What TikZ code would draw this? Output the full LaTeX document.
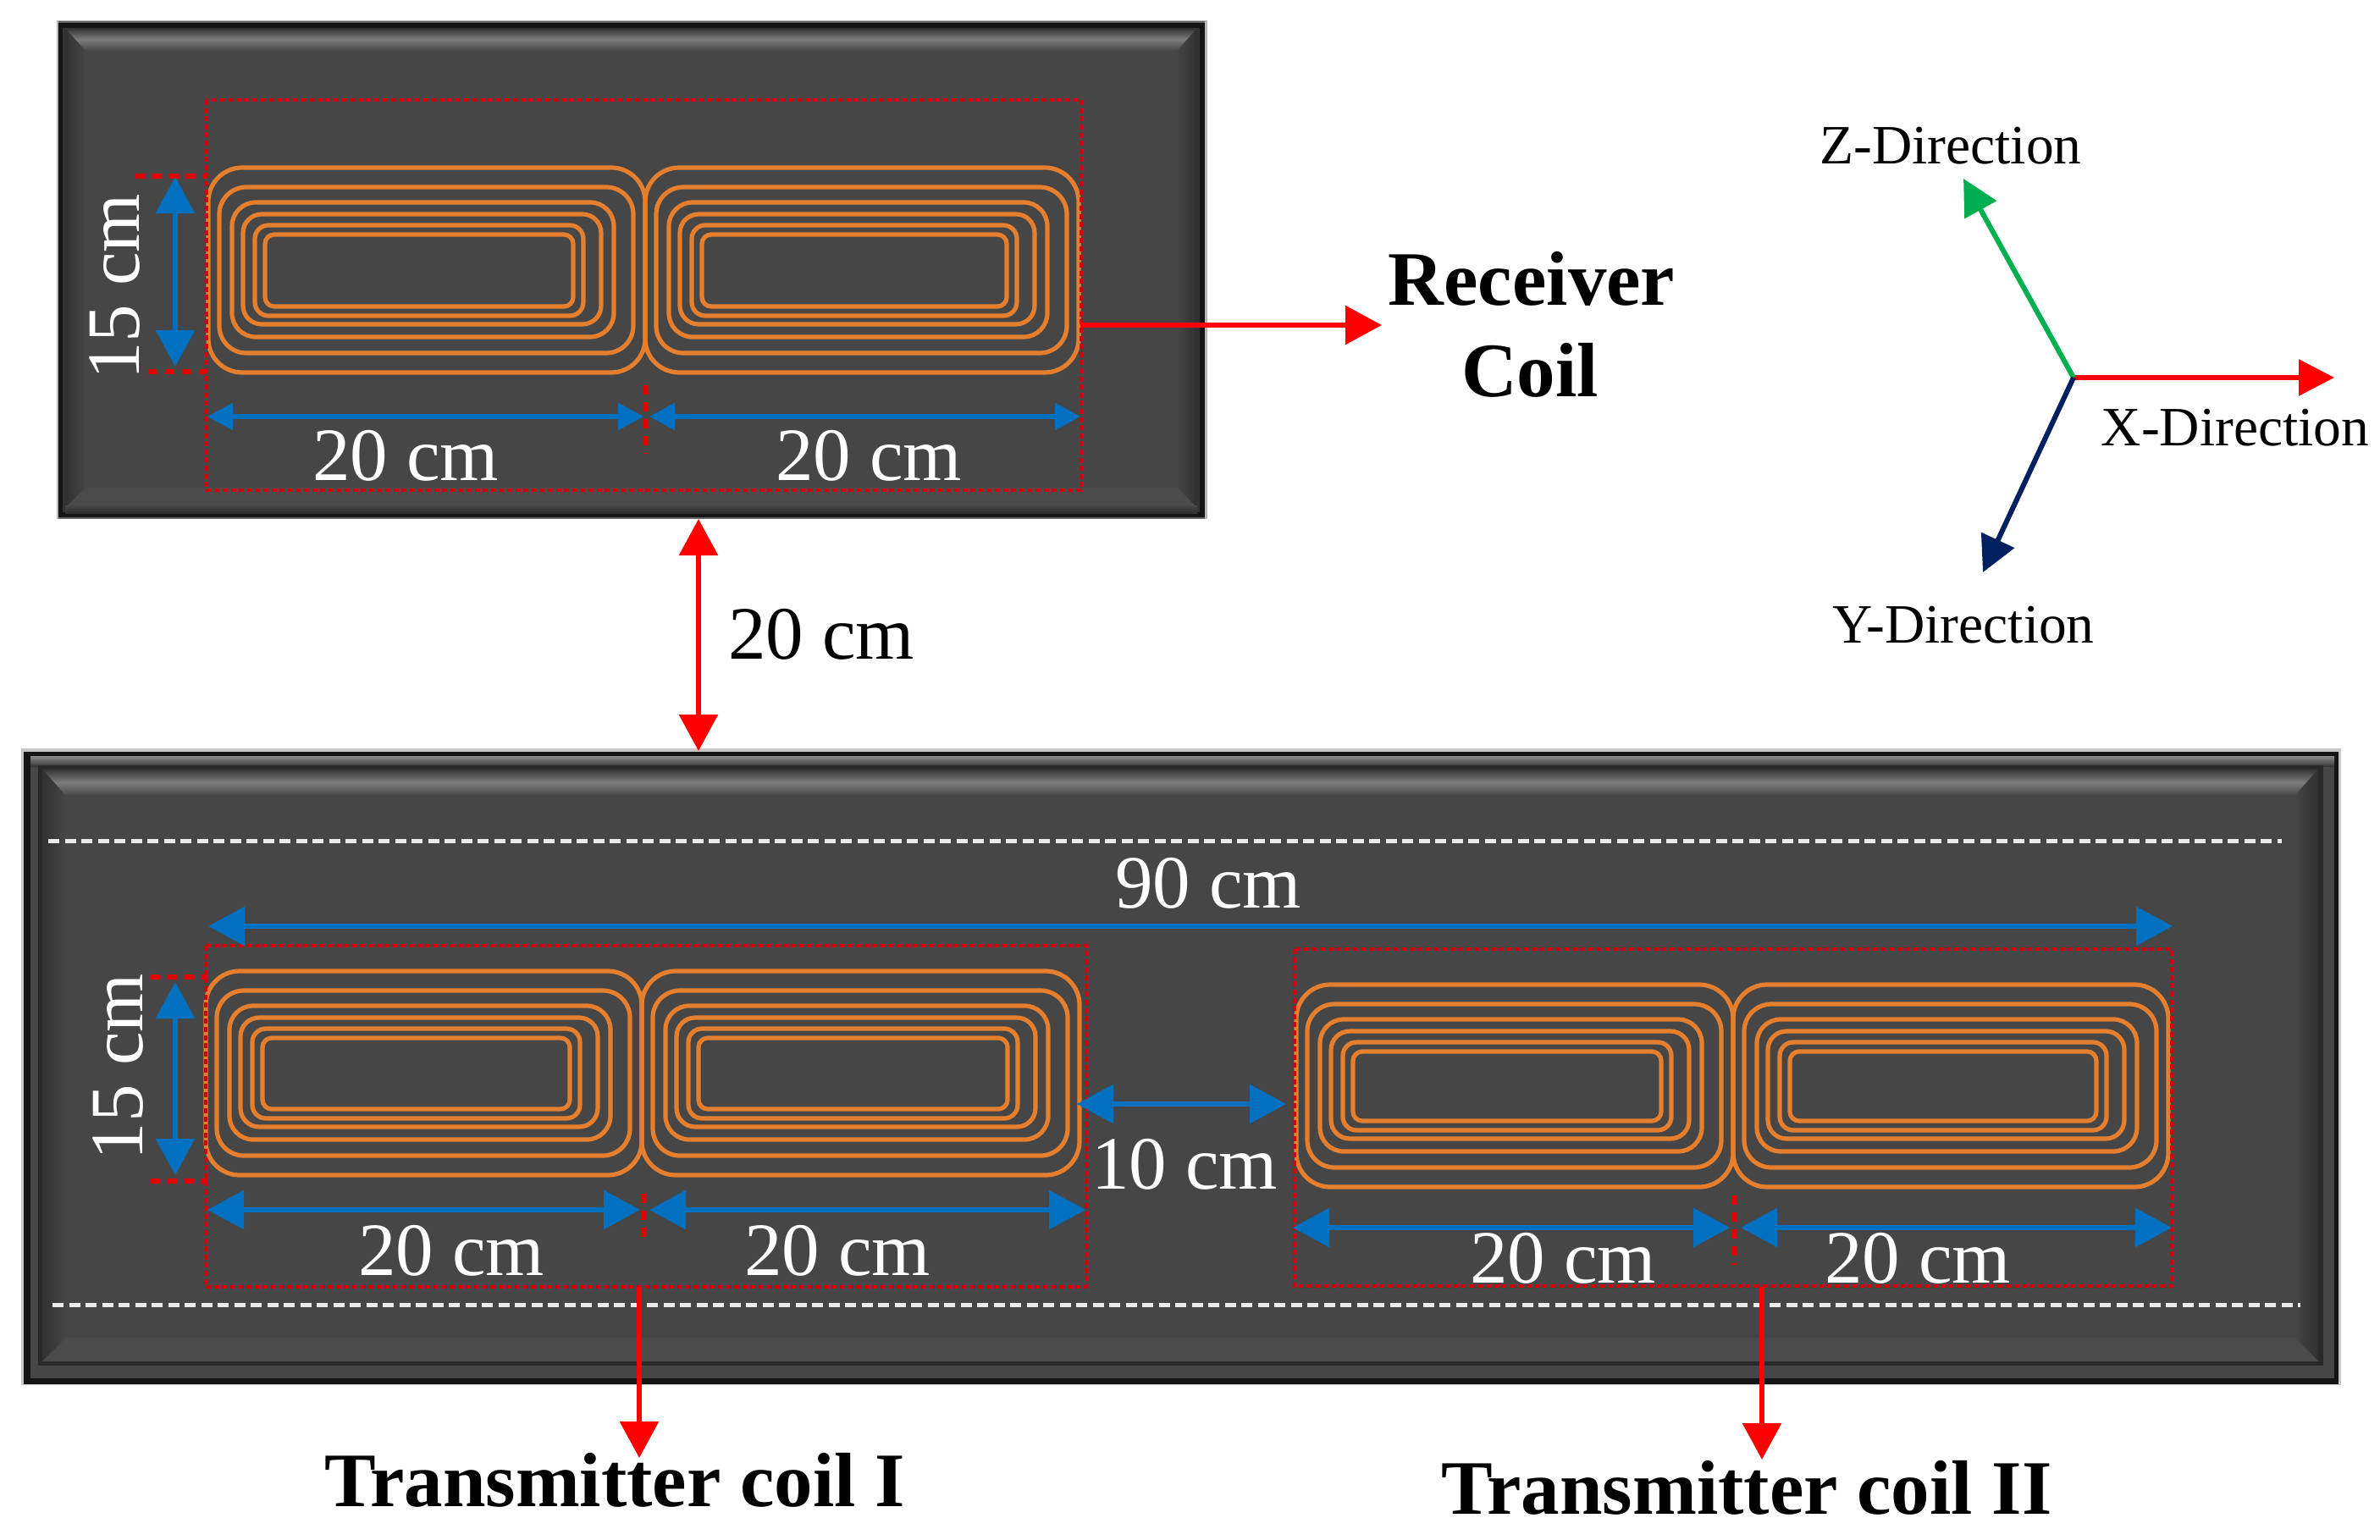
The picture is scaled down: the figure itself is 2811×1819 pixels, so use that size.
\documentclass[tikz,border=0pt]{standalone}
\usepackage{fontspec}
\setmainfont{Liberation Serif}
\usetikzlibrary{arrows.meta}
\definecolor{panelgray}{HTML}{464646}
\definecolor{bevdark}{HTML}{303030}
\definecolor{bevlight}{HTML}{7C7C7C}
\definecolor{coilor}{HTML}{E57F2E}
\definecolor{dimblue}{HTML}{0070C0}
\definecolor{dotred}{HTML}{D4000F}
\definecolor{axgreen}{HTML}{00B050}
\definecolor{axnavy}{HTML}{002060}
\tikzset{
  bigtip/.tip={Triangle[length=43pt,width=45pt]},
  smalltip/.tip={Triangle[length=30pt,width=31pt]},
  dimarrow/.style={draw=dimblue,fill=dimblue,line width=6pt,bigtip-bigtip},
  dimarrowsmall/.style={draw=dimblue,fill=dimblue,line width=6pt,smalltip-smalltip},
  redarrow/.style={draw=red,fill=red,line width=6pt,-bigtip},
  redarrowboth/.style={draw=red,fill=red,line width=6pt,bigtip-bigtip},
  axisarrow/.style={line width=6pt,-{Triangle[length=42pt,width=42pt]}},
  redbox/.style={draw=dotred,line width=3.6pt,dash pattern=on 6pt off 3.6pt},
  reddash/.style={draw=red!90!black,line width=5.5pt,dash pattern=on 11pt off 9pt},
  whitedash/.style={draw=white!92!black,line width=5pt,dash pattern=on 13pt off 6.5pt},
  coilline/.style={draw=coilor,line width=5.2pt},
  dimtext/.style={text=white,font=\fontsize{89}{100}\selectfont,inner sep=0pt},
  blacktext/.style={text=black,font=\fontsize{89}{100}\selectfont,inner sep=0pt},
  boldtext/.style={text=black,font=\fontsize{91}{100}\selectfont\bfseries,inner sep=0pt},
  axistext/.style={text=black,font=\fontsize{65.5}{75}\selectfont,inner sep=0pt},
}
% one half of a coil pair: x0 x1 y0 y1
\newcommand{\coilhalf}[4]{%
  \draw[coilline,rounded corners=40pt] (#1,#3) rectangle (#2,#4);
  \draw[coilline,rounded corners=32pt] ({#1+13},{#3+23}) rectangle ({#2-14},{#4-23});
  \draw[coilline,rounded corners=28pt] ({#1+28},{#3+41}) rectangle ({#2-37},{#4-42});
  \draw[coilline,rounded corners=22pt] ({#1+41},{#3+55}) rectangle ({#2-52},{#4-57});
  \draw[coilline,rounded corners=16pt] ({#1+55},{#3+68}) rectangle ({#2-73},{#4-67});
  \draw[coilline,rounded corners=11pt] ({#1+67},{#3+79}) rectangle ({#2-85},{#4-78});
}
% bevelled face: x0 y0 x1 y1 depth top-depth
\newcommand{\bevface}[6]{%
  \fill[panelgray] (#1,#2) rectangle (#3,#4);
  \shade[left color=bevdark,right color=panelgray]
    (#1,#2) -- ({#1+#5},{#2+#6}) -- ({#1+#5},{#4-#5}) -- (#1,#4) -- cycle;
  \shade[left color=panelgray,right color=bevdark]
    (#3,#2) -- ({#3-#5},{#2+#6}) -- ({#3-#5},{#4-#5}) -- (#3,#4) -- cycle;
  \shade[top color=panelgray!70!black,bottom color=panelgray,middle color=bevlight]
    (#1,#2) -- (#3,#2) -- ({#3-#5},{#2+#6}) -- ({#1+#5},{#2+#6}) -- cycle;
  \fill[panelgray!97!white]
    (#1,#4) -- (#3,#4) -- ({#3-#5},{#4-#5}) -- ({#1+#5},{#4-#5}) -- cycle;
}
\begin{document}
\begin{tikzpicture}[x=1pt,y=-1pt]
\useasboundingbox (0,0) rectangle (2811,1819);
\fill[white] (0,0) rectangle (2811,1819);

% ---------- receiver panel
\fill[black!28] (67,24) rectangle (1426,613);
\fill[black!60] (69,25) rectangle (1423,613);
\fill[black!92] (69,27) rectangle (1423,611);
\fill[black!80] (74,33) rectangle (1417,605);
\bevface{77}{33}{1414}{600}{24}{27}
\shade[top color=panelgray,bottom color=bevdark] (77,597) rectangle (1414,606);

% ---------- transmitter panel
\fill[black!22] (25,884) rectangle (2765,1636);
\fill[black!92] (28,888) rectangle (2762,1635);
\fill[panelgray] (36,893) rectangle (2757,1628);
\shade[top color=bevlight!90,bottom color=panelgray!80!black] (36,893) rectangle (2757,905);
\fill[bevdark!85!black] (45,904) rectangle (2744,1613);
\bevface{50}{908}{2738}{1608}{28}{32}

% ---------- white dashed lines
\coordinate (wtl) at (57,993);    \coordinate (wtr) at (2695,993);
\coordinate (wbl) at (62,1541);   \coordinate (wbr) at (2717,1541);
\draw[whitedash] (wtl) -- (wtr);
\draw[whitedash] (wbl) -- (wbr);

% ---------- coils
\coilhalf{246}{762}{198}{440}
\coilhalf{762}{1274}{198}{440}
\coilhalf{243}{758}{1147}{1388}
\coilhalf{758}{1275}{1147}{1388}
\coilhalf{1531}{2047}{1163}{1402}
\coilhalf{2047}{2561}{1163}{1402}

% ---------- dotted red frames
\draw[redbox] (244,118) rectangle (1277,579);
\draw[redbox] (243,1117) rectangle (1283,1520);
\draw[redbox] (1529,1121) rectangle (2565,1519);

% ---------- red tick dashes
\draw[reddash] (160,208) -- (244,208);
\draw[reddash] (175,439) -- (244,439);
\draw[reddash] (763,455) -- (763,536);
\draw[reddash] (178,1154) -- (245,1154);
\draw[reddash] (178,1395) -- (245,1395);
\draw[reddash] (760,1410) -- (760,1470);
\draw[reddash] (2048,1412) -- (2048,1494);

% ---------- dimension arrows
\coordinate (ra) at (245,492);  \coordinate (rb) at (760,492);
\coordinate (rc) at (767,492);  \coordinate (rd) at (1276,492);
\coordinate (re) at (207,209);  \coordinate (rf) at (207,433);
\draw[dimarrowsmall] (ra) -- (rb);
\draw[dimarrowsmall] (rc) -- (rd);
\draw[dimarrow] (re) -- (rf);
\coordinate (ta) at (245,1429); \coordinate (tb) at (756,1429);
\coordinate (tc) at (767,1429); \coordinate (td) at (1282,1429);
\coordinate (te) at (207,1160); \coordinate (tf) at (207,1388);
\draw[dimarrow] (ta) -- (tb);
\draw[dimarrow] (tc) -- (td);
\draw[dimarrow] (te) -- (tf);
\coordinate (ua) at (1527,1450); \coordinate (ub) at (2043,1450);
\coordinate (uc) at (2056,1450); \coordinate (ud) at (2565,1450);
\draw[dimarrow] (ua) -- (ub);
\draw[dimarrow] (uc) -- (ud);
\coordinate (na) at (246,1094); \coordinate (nb) at (2566,1094);
\draw[dimarrow] (na) -- (nb);
\coordinate (ga) at (1272,1304); \coordinate (gb) at (1519,1304);
\draw[dimarrow] (ga) -- (gb);

% ---------- dimension labels
\node[dimtext] (l1) at (479,538) {20 cm};
\node[dimtext] (l2) at (1026,538) {20 cm};
\node[dimtext,rotate=90] (l3) at (136,339) {15 cm};
\node[dimtext,rotate=90] (l4) at (140,1260) {15 cm};
\node[dimtext] (l5) at (1427,1043) {90 cm};
\node[dimtext] (l6) at (533,1477) {20 cm};
\node[dimtext] (l7) at (989,1477) {20 cm};
\node[dimtext] (l8) at (1399,1375) {10 cm};
\node[dimtext] (l9) at (1846,1486) {20 cm};
\node[dimtext] (l10) at (2265,1486) {20 cm};
\node[blacktext] (l11) at (970,749) {20 cm};

% ---------- red arrows
\coordinate (aa) at (1276,384); \coordinate (ab) at (1632,384);
\draw[redarrow] (aa) -- (ab);
\coordinate (ac) at (825,613); \coordinate (ad) at (825,887);
\draw[redarrowboth] (ac) -- (ad);
\coordinate (ae) at (755,1520); \coordinate (af) at (755,1722);
\draw[redarrow] (ae) -- (af);
\coordinate (ag) at (2081,1520); \coordinate (ah) at (2081,1724);
\draw[redarrow] (ag) -- (ah);

% ---------- bold labels
\node[boldtext] (rx1) at (1809,329) {Receiver};
\node[boldtext] (rx2) at (1807,437) {Coil};
\node[boldtext] (tx1) at (726,1748) {Transmitter coil I};
\node[boldtext] (tx2) at (2063,1757) {Transmitter coil II};

% ---------- axes
\coordinate (o) at (2449,446);
\coordinate (ox) at (2757,446);
\coordinate (oz) at (2319,211);
\coordinate (oy) at (2342,676);
\draw[axisarrow,draw=red,fill=red] (o) -- (ox);
\draw[axisarrow,draw=axgreen,fill=axgreen] (o) -- (oz);
\draw[axisarrow,draw=axnavy,fill=axnavy] (o) -- (oy);
\node[axistext] (zl) at (2304,172) {Z-Direction};
\node[axistext] (xl) at (2640,505) {X-Direction};
\node[axistext] (yl) at (2319,738) {Y-Direction};
\end{tikzpicture}
\end{document}
